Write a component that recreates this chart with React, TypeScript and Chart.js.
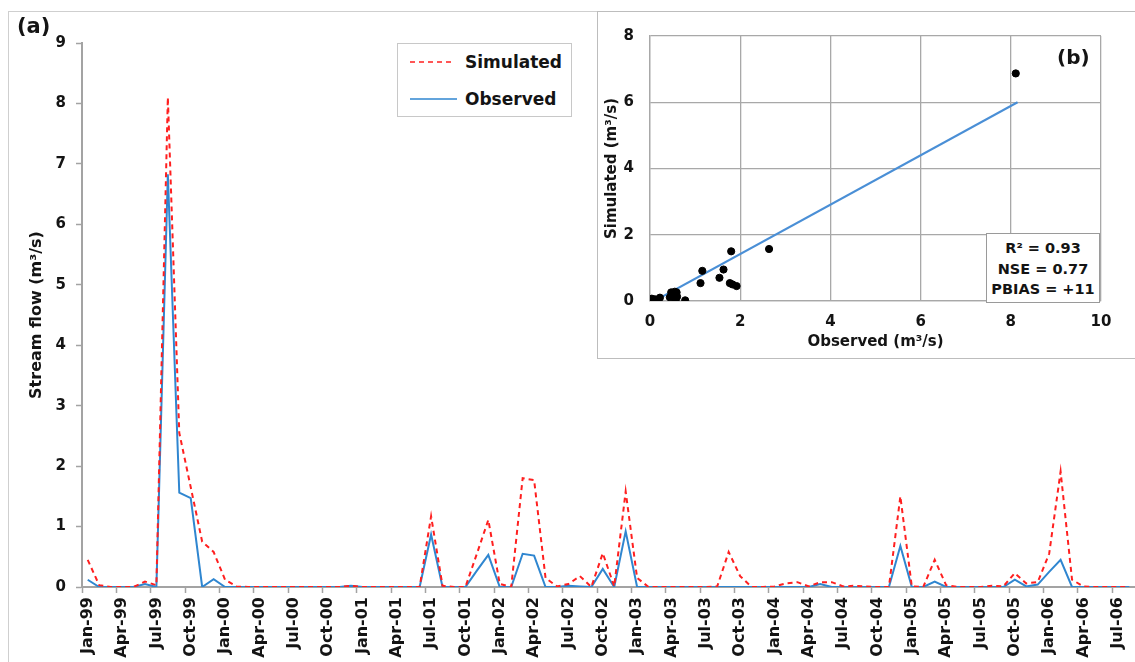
import React, { useEffect, useRef } from 'react';
import { Chart, registerables } from 'chart.js';

Chart.register(...registerables);

const FONT = "'DejaVu Sans', sans-serif";
const TEXT = '#141414';
const AXIS_GRAY = '#a3a3a3';
const GRID_GRAY = '#a8a8a8';
const RED = '#ff1f1f';
const BLUE = '#2f86d0';
const TREND_BLUE = '#4a8fd6';

// ---- Panel (a): monthly stream flow ----
const categories = [
  'Jan-99', 'Feb-99', 'Mar-99', 'Apr-99', 'May-99', 'Jun-99', 'Jul-99', 'Aug-99', 'Sep-99', 'Oct-99', 'Nov-99', 'Dec-99',
  'Jan-00', 'Feb-00', 'Mar-00', 'Apr-00', 'May-00', 'Jun-00', 'Jul-00', 'Aug-00', 'Sep-00', 'Oct-00', 'Nov-00', 'Dec-00',
  'Jan-01', 'Feb-01', 'Mar-01', 'Apr-01', 'May-01', 'Jun-01', 'Jul-01', 'Aug-01', 'Sep-01', 'Oct-01', 'Nov-01', 'Dec-01',
  'Jan-02', 'Feb-02', 'Mar-02', 'Apr-02', 'May-02', 'Jun-02', 'Jul-02', 'Aug-02', 'Sep-02', 'Oct-02', 'Nov-02', 'Dec-02',
  'Jan-03', 'Feb-03', 'Mar-03', 'Apr-03', 'May-03', 'Jun-03', 'Jul-03', 'Aug-03', 'Sep-03', 'Oct-03', 'Nov-03', 'Dec-03',
  'Jan-04', 'Feb-04', 'Mar-04', 'Apr-04', 'May-04', 'Jun-04', 'Jul-04', 'Aug-04', 'Sep-04', 'Oct-04', 'Nov-04', 'Dec-04',
  'Jan-05', 'Feb-05', 'Mar-05', 'Apr-05', 'May-05', 'Jun-05', 'Jul-05', 'Aug-05', 'Sep-05', 'Oct-05', 'Nov-05', 'Dec-05',
  'Jan-06', 'Feb-06', 'Mar-06', 'Apr-06', 'May-06', 'Jun-06', 'Jul-06', 'Aug-06',
];

const simulated = [
  0.45, 0.03, 0, 0, 0, 0.09, 0.03, 8.1, 2.55, 1.65, 0.75, 0.58,
  0.12, 0.01, 0, 0, 0, 0, 0, 0, 0, 0, 0, 0.02,
  0, 0, 0, 0, 0, 0, 1.17, 0.02, 0, 0, 0.55, 1.11,
  0.05, 0, 1.8, 1.77, 0.15, 0.01, 0.05, 0.18, 0, 0.56, 0.01, 1.58,
  0.15, 0, 0, 0, 0, 0, 0, 0.01, 0.58, 0.18, 0, 0,
  0.01, 0.06, 0.08, 0.01, 0.08, 0.08, 0.01, 0.02, 0.01, 0, 0, 1.5,
  0.01, 0, 0.45, 0.03, 0, 0, 0, 0.02, 0.01, 0.23, 0.06, 0.08,
  0.55, 1.91, 0.12, 0.01, 0, 0, 0, 0,
];

const observed = [
  0.12, 0, 0, 0, 0, 0.05, 0, 6.83, 1.56, 1.47, 0, 0.13,
  0, 0, 0, 0, 0, 0, 0, 0, 0, 0, 0, 0.02,
  0, 0, 0, 0, 0, 0, 0.87, 0, 0, 0, 0.27, 0.53,
  0, 0, 0.55, 0.52, 0, 0, 0.02, 0.01, 0, 0.3, 0, 0.92,
  0, 0, 0, 0, 0, 0, 0, 0, 0, 0, 0, 0,
  0, 0, 0, 0, 0.05, 0, 0, 0, 0, 0, 0, 0.68,
  0, 0, 0.09, 0, 0, 0, 0, 0, 0, 0.12, 0.01, 0.04,
  0.25, 0.45, 0, 0, 0, 0, 0, 0,
];

const seriesNames = ['Simulated', 'Observed'];

// ---- Panel (b): scatter ----
const scatterObserved = [8.11, 2.64, 1.8, 1.16, 1.12, 1.54, 1.63, 1.77, 1.83, 1.92, 0.47, 0.55, 0.59, 0.44, 0.55, 0.57, 0.78, 0.0, 0.04, 0.11, 0.22, 0.15, 0.0, 0.5, 0.6];
const scatterSimulated = [6.87, 1.57, 1.5, 0.91, 0.54, 0.7, 0.95, 0.54, 0.5, 0.45, 0.26, 0.28, 0.26, 0.11, 0.11, 0.02, 0.02, 0.02, 0.07, 0.05, 0.1, 0.02, 0.0, 0.16, 0.13];
const trendObserved = [0.1, 8.15];
const trendSimulated = [0.0, 6.0];
const statsLines = ['R² = 0.93', 'NSE = 0.77', 'PBIAS = +11'];

export default function App() {
  const mainRef = useRef<HTMLCanvasElement>(null);
  const insetRef = useRef<HTMLCanvasElement>(null);

  useEffect(() => {
    const tickFont = { family: FONT, size: 15, weight: 'bold' as const };
    const xTickFont = { family: FONT, size: 16, weight: 'bold' as const };
    const main = new Chart(mainRef.current!, {
      type: 'line',
      data: {
        labels: categories,
        datasets: [
          {
            label: seriesNames[0],
            data: simulated,
            borderColor: RED,
            borderWidth: 2,
            borderDash: [5, 4],
            pointRadius: 0,
            tension: 0,
            fill: false,
            order: 0,
          },
          {
            label: seriesNames[1],
            data: observed,
            borderColor: BLUE,
            borderWidth: 2,
            pointRadius: 0,
            tension: 0,
            fill: false,
            order: 1,
          },
        ],
      },
      options: {
        animation: false,
        responsive: false,
        maintainAspectRatio: false,
        layout: { padding: { top: 43, left: 0, right: 0, bottom: 0 } },
        plugins: { legend: { display: false }, tooltip: { enabled: false } },
        scales: {
          x: {
            type: 'category',
            offset: true,
            grid: {
              display: true,
              offset: true,
              drawOnChartArea: false,
              drawTicks: true,
              tickLength: 6,
              tickWidth: 1.5,
              tickColor: (c: any) => (c.index % 3 === 0 ? AXIS_GRAY : 'rgba(0,0,0,0)'),
            },
            border: { display: true, color: AXIS_GRAY, width: 2 },
            ticks: {
              autoSkip: false,
              maxRotation: 90,
              minRotation: 90,
              padding: 4,
              color: TEXT,
              font: xTickFont,
              callback: (_v: any, i: number) => (i % 3 === 0 ? categories[i] : ''),
            },
            afterFit: (s: any) => {
              s.height = 75;
              s.paddingLeft = 0;
              s.paddingRight = 0;
            },
          },
          y: {
            min: 0,
            max: 9,
            ticks: { stepSize: 1, padding: 10, color: TEXT, font: tickFont },
            grid: { drawOnChartArea: false, drawTicks: true, tickLength: 6, tickWidth: 1.5, tickColor: AXIS_GRAY },
            border: { display: true, color: AXIS_GRAY, width: 2 },
            title: {
              display: true,
              text: 'Stream flow (m³/s)',
              color: TEXT,
              font: { family: FONT, size: 16, weight: 'bold' },
              padding: { top: 27, bottom: 0 },
            },
            afterFit: (s: any) => {
              s.width = 82;
            },
          },
        },
      },
    } as any);

    const inset = new Chart(insetRef.current!, {
      type: 'scatter',
      data: {
        datasets: [
          {
            label: 'points',
            data: scatterObserved.map((x, i) => ({ x, y: scatterSimulated[i] })),
            backgroundColor: '#000',
            borderColor: '#000',
            pointRadius: 3.6,
            order: 0,
          },
          {
            label: 'trend',
            data: trendObserved.map((x, i) => ({ x, y: trendSimulated[i] })),
            showLine: true,
            borderColor: TREND_BLUE,
            borderWidth: 2,
            pointRadius: 0,
            order: 1,
          },
        ],
      },
      options: {
        animation: false,
        responsive: false,
        maintainAspectRatio: false,
        layout: { padding: { top: 12, left: 0, right: 34, bottom: 0 } },
        plugins: { legend: { display: false }, tooltip: { enabled: false } },
        scales: {
          x: {
            type: 'linear',
            min: 0,
            max: 10,
            ticks: { stepSize: 2, padding: 12, color: TEXT, font: tickFont },
            grid: { color: GRID_GRAY, lineWidth: 1.3, drawTicks: false },
            border: { display: true, color: GRID_GRAY, width: 1.3 },
            title: {
              display: true,
              text: 'Observed (m³/s)',
              color: TEXT,
              font: { family: FONT, size: 15, weight: 'bold' },
              padding: { top: 0, bottom: 7 },
            },
            afterFit: (s: any) => {
              s.height = 57;
            },
          },
          y: {
            min: 0,
            max: 8,
            ticks: { stepSize: 2, padding: 16, color: TEXT, font: tickFont },
            grid: { color: GRID_GRAY, lineWidth: 1.3, drawTicks: false },
            border: { display: true, color: GRID_GRAY, width: 1.3 },
            title: {
              display: true,
              text: 'Simulated (m³/s)',
              color: TEXT,
              font: { family: FONT, size: 15, weight: 'bold' },
              padding: { top: 6, bottom: 0 },
            },
            afterFit: (s: any) => {
              s.width = 53;
            },
          },
        },
      },
    } as any);

    return () => {
      main.destroy();
      inset.destroy();
    };
  }, []);

  const abs = (o: any) => ({ position: 'absolute' as const, ...o });
  const textStyle = (size: number) => ({
    fontFamily: FONT,
    fontWeight: 'bold' as const,
    fontSize: size,
    lineHeight: 1,
    color: TEXT,
    whiteSpace: 'nowrap' as const,
  });

  return (
    <div style={abs({ left: 0, top: 0, width: 1135, height: 662, overflow: 'hidden', background: '#fff' })}>
      <div style={abs({ left: 8, top: 11, width: 1140, height: 680, border: '1px solid #cfcfcf', boxSizing: 'border-box' })} />
      <canvas ref={mainRef} width={1135} height={662} style={abs({ left: 0, top: 0, width: 1135, height: 662 })} />

      <div style={abs({ left: 17, top: 16, ...textStyle(21) })}>(a)</div>

      {/* legend */}
      <div style={abs({ left: 397, top: 43, width: 175, height: 74, border: '1px solid #c8c8c8', boxSizing: 'border-box', background: '#fff' })} />
      <svg style={abs({ left: 405, top: 55, width: 60, height: 50 })} width={60} height={50}>
        <line x1={5} y1={7} x2={50} y2={7} stroke={RED} strokeWidth={1.5} strokeDasharray="5 4" />
        <line x1={5} y1={44} x2={52} y2={44} stroke={BLUE} strokeWidth={1.5} />
      </svg>
      <div style={abs({ left: 465, top: 54, ...textStyle(17) })}>{seriesNames[0]}</div>
      <div style={abs({ left: 465, top: 91, ...textStyle(17) })}>{seriesNames[1]}</div>

      {/* inset panel (b) */}
      <div style={abs({ left: 597, top: 11, width: 560, height: 348, border: '1px solid #bdbdbd', boxSizing: 'border-box', background: '#fff' })} />
      <canvas ref={insetRef} width={538} height={347} style={abs({ left: 597, top: 11, width: 538, height: 347 })} />
      <div style={abs({ left: 1057, top: 47, ...textStyle(20) })}>(b)</div>
      <div style={abs({ left: 986, top: 233, width: 114, height: 70, border: '1px solid #9a9a9a', boxSizing: 'border-box', background: '#fff' })} />
      {statsLines.map((t, i) => (
        <div key={t} style={abs({ left: 986, width: 114, top: 241 + i * 20.5, textAlign: 'center', ...textStyle(14.5) })}>{t}</div>
      ))}
    </div>
  );
}
